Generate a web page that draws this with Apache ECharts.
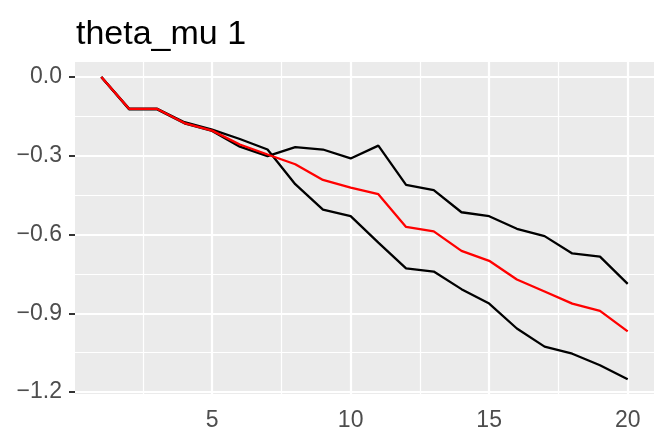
<!DOCTYPE html>
<html>
<head>
<meta charset="utf-8">
<script src="https://cdn.jsdelivr.net/npm/echarts@6/dist/echarts.min.js"></script>
<style>
  html, body { margin: 0; padding: 0; background: #fff; }
  #chart { width: 654px; height: 432px; }
</style>
</head>
<body>
<div id="chart"></div>
<script>
// iterations 1..20
const xs = [1, 2, 3, 4, 5, 6, 7, 8, 9, 10, 11, 12, 13, 14, 15, 16, 17, 18, 19, 20];
const upper = [0, -0.123, -0.122, -0.176, -0.205, -0.265, -0.301, -0.267, -0.276, -0.310, -0.261, -0.411, -0.431, -0.515, -0.530, -0.578, -0.606, -0.672, -0.684, -0.788];
const lower = [0, -0.120, -0.120, -0.172, -0.200, -0.236, -0.276, -0.408, -0.505, -0.530, -0.631, -0.729, -0.741, -0.808, -0.863, -0.958, -1.027, -1.054, -1.098, -1.151];
const middle = [0, -0.121, -0.121, -0.175, -0.204, -0.257, -0.295, -0.332, -0.392, -0.421, -0.446, -0.571, -0.588, -0.662, -0.700, -0.771, -0.817, -0.863, -0.891, -0.969];

const xTicks = [5, 10, 15, 20];
const xMinor = [2.5, 7.5, 12.5, 17.5];
const yTicks = [0, -0.3, -0.6, -0.9, -1.2];
const yMinor = [-0.15, -0.45, -0.75, -1.05];

const pairs = ys => xs.map((x, i) => [x, ys[i]]);

const chart = echarts.init(document.getElementById('chart'));

// ggplot-ish grid lines (drawn as markLines so the axis range can keep its padding)
const gridLines = [];
xMinor.forEach(v => gridLines.push({ xAxis: v, lineStyle: { width: 1.2 } }));
yMinor.forEach(v => gridLines.push({ yAxis: v, lineStyle: { width: 1.2 } }));
xTicks.forEach(v => gridLines.push({ xAxis: v, lineStyle: { width: 2.2 } }));
yTicks.forEach(v => gridLines.push({ yAxis: v, lineStyle: { width: 2.2 } }));

const lineSeries = (data, color, z) => ({
  type: 'line',
  data: pairs(data),
  symbol: 'none',
  z: z,
  lineStyle: { color: color, width: 2.3 },
  animation: false
});

chart.setOption({
  animation: false,
  title: {
    text: 'theta_mu 1',
    left: 71,
    top: 13,
    textStyle: { fontFamily: 'Liberation Sans', fontSize: 34, fontWeight: 'normal', color: '#000' }
  },
  grid: {
    left: 75, right: -5, top: 62, bottom: 36,
    show: true, backgroundColor: '#EBEBEB', borderWidth: 0
  },
  xAxis: {
    type: 'value',
    min: 0.05, max: 20.95,
    axisLine: { show: false },
    splitLine: { show: false },
    axisTick: { show: true, length: 6, customValues: xTicks, lineStyle: { color: '#333', width: 2 } },
    axisLabel: {
      customValues: xTicks, margin: 15,
      fontFamily: 'Liberation Sans', fontSize: 23, color: '#4D4D4D'
    }
  },
  yAxis: {
    type: 'value',
    min: -1.2075, max: 0.0575,
    axisLine: { show: false },
    splitLine: { show: false },
    axisTick: { show: true, length: 6, customValues: yTicks, lineStyle: { color: '#333', width: 2 } },
    axisLabel: {
      customValues: yTicks, margin: 13,
      fontFamily: 'Liberation Sans', fontSize: 23, color: '#4D4D4D',
      formatter: v => v.toFixed(1).replace('-', '\u2212')
    }
  },
  series: [
    {
      type: 'line',
      data: [],
      z: 1,
      markLine: {
        z: 1,
        silent: true,
        symbol: 'none',
        label: { show: false },
        lineStyle: { color: '#FFFFFF', type: 'solid' },
        emphasis: { disabled: true },
        animation: false,
        data: gridLines
      }
    },
    lineSeries(upper, '#000000', 3),
    lineSeries(lower, '#000000', 3),
    lineSeries(middle, '#FF0000', 4)
  ]
});
</script>
</body>
</html>
